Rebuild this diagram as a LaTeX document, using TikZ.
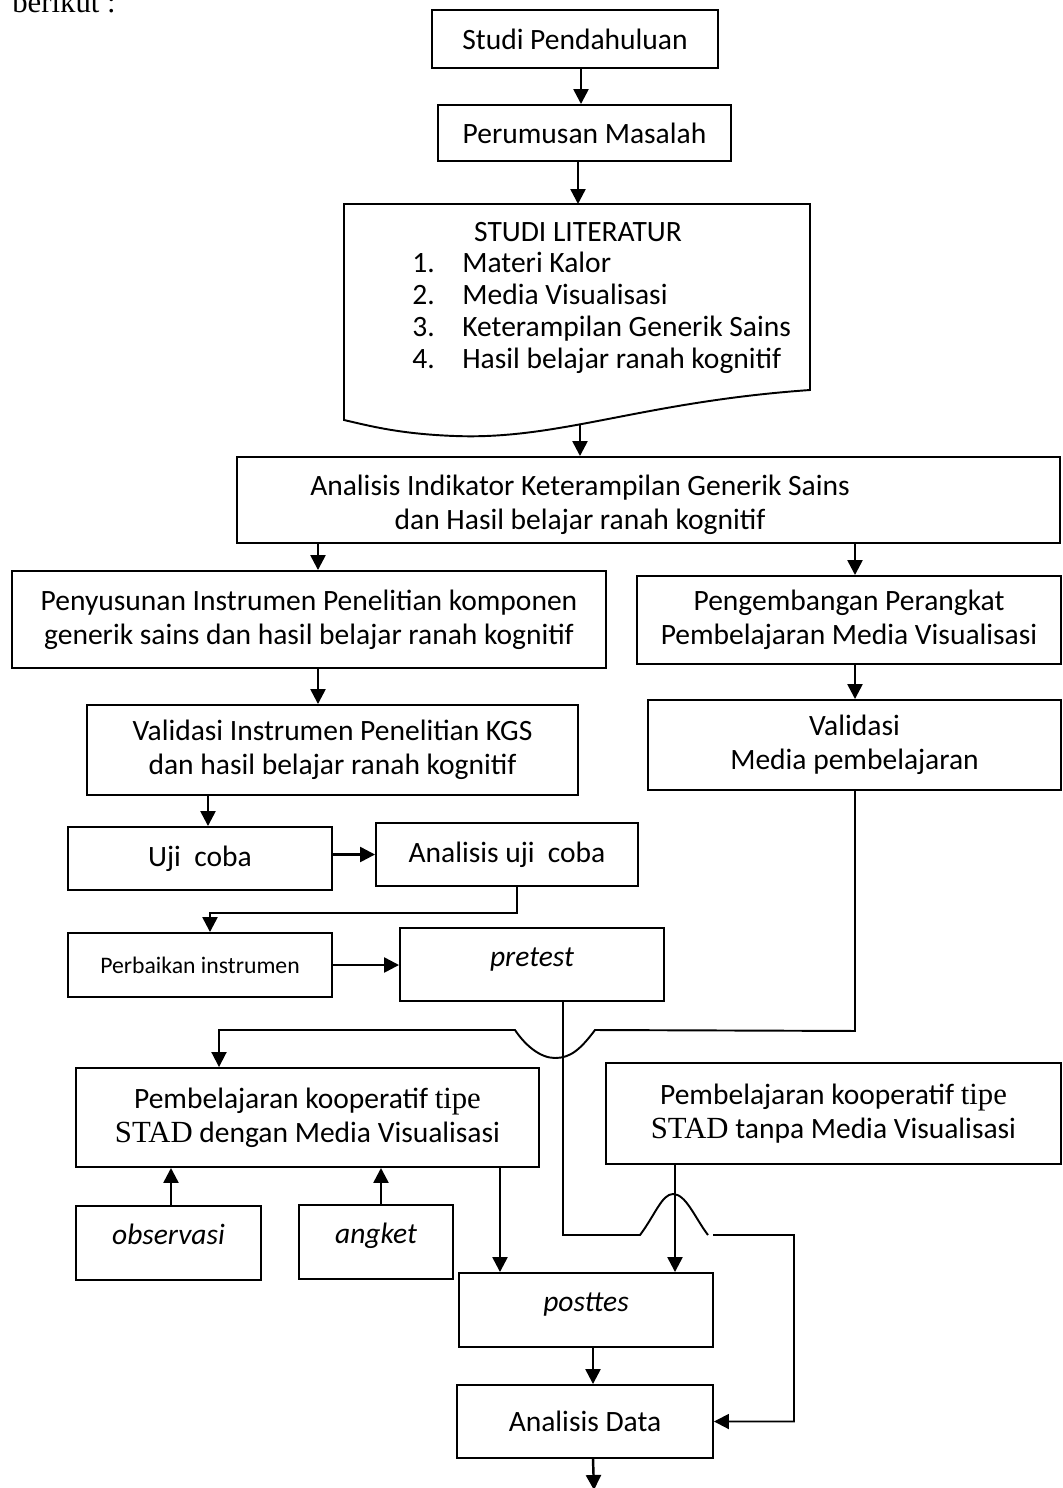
\documentclass[tikz,border=0pt]{standalone}
\usepackage{fontspec}
\setmainfont{Carlito}
\newfontfamily\tnrfont{Liberation Serif}
\usetikzlibrary{arrows.meta}
\tikzset{
every node/.style={font=\fontsize{16.8}{19.5}\selectfont},
box/.style={draw, line width=1.1pt, inner sep=0pt, align=center},
sz/.style 2 args={minimum width=#1*0.02cm, minimum height=#2*0.02cm},
word/.style={text height=0.6em, text depth=0.4em},
arr/.style={line width=1.4pt, -{Triangle[length=0.3cm, width=0.3cm]}},
wire/.style={line width=1.1pt},
}
\newcommand{\tnr}[1]{{\tnrfont\fontsize{17.5}{19}\selectfont #1}}

\begin{document}
\begin{tikzpicture}[x=0.02cm, y=-0.02cm]
    \useasboundingbox (0,0) rectangle (1062,1488);

    % heading, cut at the top
    \node[anchor=base west, inner sep=0pt, font=\tnrfont\fontsize{17.5}{20}\selectfont] (berikut) at (12,12) {berikut :};

    % main column
    \node[box, sz={286}{58}] (pend) at (575,39) {Studi Pendahuluan};
    \node[box, sz={293}{56}] (rumus) at (584.5,133) {Perumusan Masalah};

    % document shape: studi literatur
    \draw[line width=1.1pt] (344,204) -- (810,204) -- (810,390)
        .. controls (640,402) and (560,440) .. (455,436)
        .. controls (400,434) and (370,426) .. (344,420) -- cycle;
    \coordinate (littop) at (578,204);
    \coordinate (litbot) at (580,424);
    \node (lit) at (578,232) {STUDI LITERATUR};
    \node[anchor=base west, inner sep=0pt] (n1) at (412,272) {1.};
    \node[anchor=base west, inner sep=0pt] (n2) at (412,304) {2.};
    \node[anchor=base west, inner sep=0pt] (n3) at (412,336) {3.};
    \node[anchor=base west, inner sep=0pt] (n4) at (412,368) {4.};
    \node[anchor=base west, inner sep=0pt] (l1) at (462,272) {Materi Kalor};
    \node[anchor=base west, inner sep=0pt] (l2) at (462,304) {Media Visualisasi};
    \node[anchor=base west, inner sep=0pt] (l3) at (462,336) {Keterampilan Generik Sains};
    \node[anchor=base west, inner sep=0pt] (l4) at (462,368) {Hasil belajar ranah kognitif};

    \node[box, sz={823}{86}] (indik) at (648.5,500) {};
    \node[align=center] (indiktxt) at (580,505) {Analisis Indikator Keterampilan Generik Sains\\dan Hasil belajar ranah kognitif};

    % left column
    \node[box, sz={594}{97}] (susun) at (309,619.5) {Penyusunan Instrumen Penelitian komponen\\generik sains dan hasil belajar ranah kognitif};
    \node[box, sz={491}{90}] (valinst) at (332.5,750) {Validasi Instrumen Penelitian KGS\\dan hasil belajar ranah kognitif};
    \node[box, sz={264}{63}] (uji) at (200,858.5) {Uji\ \ coba};
    \node[box, sz={262}{63}] (anauji) at (507,854.5) {Analisis uji\ \ coba};
    \node[box, sz={264}{64}, font=\fontsize{13.5}{16}\selectfont] (baiki) at (200,965) {Perbaikan instrumen};
    \node[box, word, sz={264}{73}] (pretest) at (532,964.5) {\itshape pretest};

    % right column
    \node[box, sz={424}{88}] (kembang) at (849,620) {Pengembangan Perangkat\\Pembelajaran Media Visualisasi};
    \node[box, sz={413}{90}] (valmedia) at (854.5,745) {Validasi\\Media pembelajaran};

    % treatment and end
    \node[box, sz={463}{99}] (dengan) at (307.5,1117.5) {Pembelajaran kooperatif \tnr{tipe}\\\tnr{STAD} dengan Media Visualisasi};
    \node[box, sz={455}{101}] (tanpa) at (833.5,1113.5) {Pembelajaran kooperatif \tnr{tipe}\\\tnr{STAD} tanpa Media Visualisasi};
    \node[box, word, sz={185}{74}] (obs) at (168.5,1243) {\itshape observasi};
    \node[box, word, sz={154}{74}] (angket) at (376,1242) {\itshape angket};
    \node[box, word, sz={254}{74}] (posttes) at (586,1310) {\itshape posttes};
    \node[box, sz={256}{73}] (anadata) at (585,1421.5) {Analisis Data};
    \coordinate (akhir) at (594,1490);

    % x of the vertical connectors
    \coordinate (g1) at (581,0);
    \coordinate (g2) at (578,0);
    \coordinate (g3) at (318,0);
    \coordinate (g4) at (855,0);
    \coordinate (g5) at (208,0);
    \coordinate (g6) at (517,0);
    \coordinate (g7) at (210,0);
    \coordinate (g9) at (219,0);
    \coordinate (g10) at (563,0);
    \coordinate (g11) at (675,0);
    \coordinate (g12) at (500,0);
    \coordinate (g13) at (171,0);
    \coordinate (g14) at (381,0);
    \coordinate (g15) at (593,0);

    % top arrows
    \draw[arr] (pend.south -| g1) -- (rumus.north -| g1);
    \draw[arr] (rumus.south -| g2) -- (littop);
    \draw[arr] (litbot) -- (indik.north -| litbot);
    \draw[arr] (indik.south -| g3) -- (susun.north -| g3);
    \draw[arr] (indik.south -| g4) -- (kembang.north -| g4);

    % left branch
    \draw[arr] (susun.south -| g3) -- (valinst.north -| g3);
    \draw[arr] (valinst.south -| g5) -- (uji.north -| g5);
    \draw[arr] (uji.east |- anauji.west) -- (anauji.west);
    \draw[arr] (anauji.south -| g6) -- ++(0,26) -| (baiki.north -| g7);
    \draw[arr] (baiki.east) -- (baiki.east -| pretest.west);

    % right branch
    \draw[arr] (kembang.south -| g4) -- (valmedia.north -| g4);
    \draw[wire, -{Triangle[length=0.3cm, width=0.3cm]}] (valmedia.south -| g4) -- ++(0,240) -- (595,1030)
        .. controls (580,1050) and (570,1058) .. (555,1058)
        .. controls (540,1058) and (525,1045) .. (515,1030) -| (dengan.north -| g9);

    % pretest line with jump
    \draw[wire, -{Triangle[length=0.3cm, width=0.3cm]}] (pretest.south -| g10) |- (640,1235)
        .. controls (655,1215) and (662,1194) .. (673,1194)
        .. controls (686,1194) and (695,1218) .. (708,1235)
        (713,1235) -- (794,1235) |- (anadata.east);

    % bottom arrows
    \draw[arr] (tanpa.south -| g11) -- (posttes.north -| g11);
    \draw[arr] (dengan.south -| g12) -- (posttes.north -| g12);
    \draw[arr] (obs.north -| g13) -- (dengan.south -| g13);
    \draw[arr] (angket.north -| g14) -- (dengan.south -| g14);
    \draw[arr] (posttes.south -| g15) -- (anadata.north -| g15);
    \draw[arr] (anadata.south -| g15) -- (akhir);

\end{tikzpicture}
\end{document}
